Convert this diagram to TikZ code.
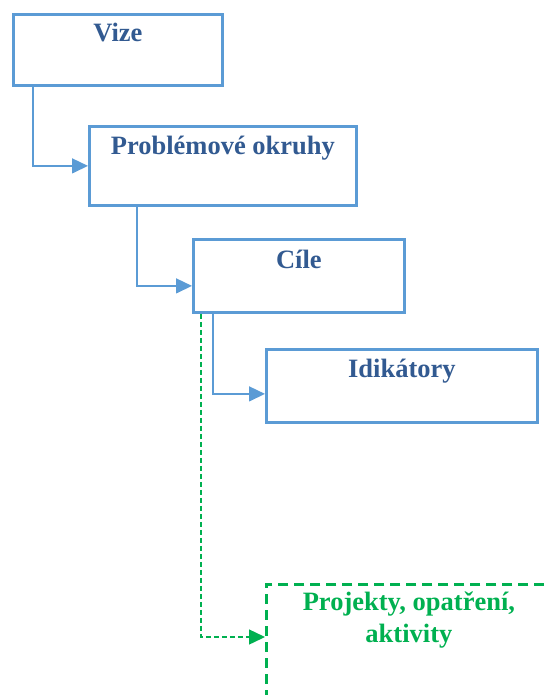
\documentclass[tikz,border=0pt]{standalone}
\usepackage{fontspec}
\setmainfont{Liberation Serif}
\usetikzlibrary{arrows.meta}
\definecolor{boxblue}{RGB}{91,155,213}
\definecolor{textblue}{RGB}{50,90,145}
\definecolor{actgreen}{RGB}{0,176,80}

\begin{document}
\begin{tikzpicture}[
    x=1pt, y=-1pt,
    level/.style={draw=boxblue, line width=2.8pt, fill=white, rectangle, anchor=north west, inner sep=0pt},
    title/.style={font=\fontsize{26.5}{32}\selectfont\bfseries, text=textblue, anchor=base, inner sep=0pt, align=center},
    action/.style={draw=actgreen, line width=2.8pt, dash pattern=on 10pt off 6pt, rectangle, anchor=north west, inner sep=0pt},
    arrow/.style={-{Triangle[length=16pt,width=15pt]}, draw=boxblue, line width=1.5pt},
    act_arrow/.style={-{Triangle[length=16pt,width=15pt]}, draw=actgreen, line width=1.4pt, dash pattern=on 5pt off 3pt}
]
\useasboundingbox (0,0) rectangle (544,695);
\clip (0,0) rectangle (544,695);

% Levels (boxes stepping down to the right)
\node[level, minimum width=209pt, minimum height=71pt] (vize) at (12,13) {};
\node[level, minimum width=267pt, minimum height=79pt] (okruhy) at (88,125) {};
\node[level, minimum width=211pt, minimum height=73pt] (cile) at (192,238) {};
\node[level, minimum width=271pt, minimum height=73pt] (indik) at (265,348) {};
\node[action, minimum width=285pt, minimum height=140pt] (projekty) at (265,583) {};

% Titles (base = last line)
\node[title] (vizeT) at ([yshift=-29pt]vize.north) {Vize};
\node[title] (okruhyT) at ([yshift=-30pt]okruhy.north) {Problémové okruhy};
\node[title] (cileT) at ([yshift=-30pt]cile.north) {Cíle};
\node[title] (indikT) at ([yshift=-29pt]indik.north) {Idikátory};
\node[title, text=actgreen] (projektyT) at ([yshift=-59pt]projekty.north) {Projekty, opatření,\\aktivity};

% Connectors
\draw[arrow] ([xshift=21pt]vize.south west) |- (okruhy.west);
\draw[arrow] ([xshift=49pt]okruhy.south west) |- ([yshift=-10pt]cile.west);
\draw[arrow] ([xshift=21pt]cile.south west) |- ([yshift=-8pt]indik.west);

% Dashed connector to the green box
\draw[act_arrow] ([xshift=9pt]cile.south west) |- ([yshift=-54pt]projekty.north west);
\end{tikzpicture}
\end{document}
